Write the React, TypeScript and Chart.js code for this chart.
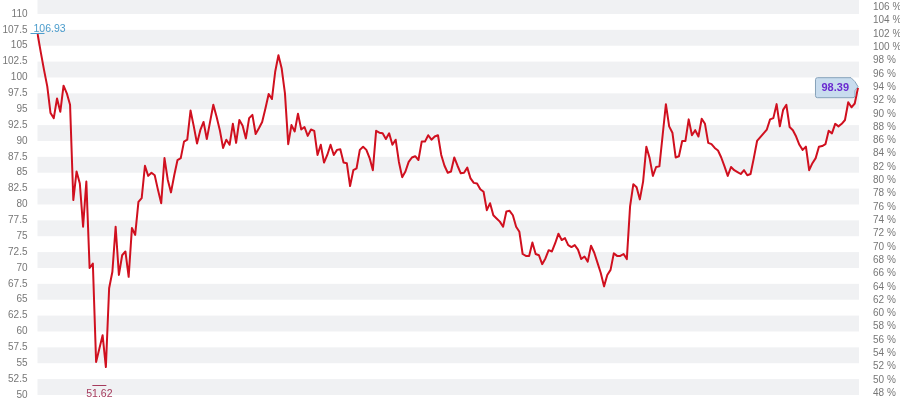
import { useEffect, useRef } from 'react';
import { Chart, registerables } from 'chart.js';

Chart.register(...registerables);
Chart.defaults.font.family = '"Liberation Sans", Arial, sans-serif';

// closing prices in four stretches
const closesA = [
  106.93, 104.0, 101.2, 98.6, 94.4, 93.6, 96.7, 94.6, 98.7, 97.5, 95.7, 80.7, 85.2, 83.3, 76.5, 83.6,
  70.0, 70.7, 55.2, 57.3, 59.4, 54.4, 66.8, 69.4, 76.5, 68.9, 72.0, 72.6, 68.6, 76.3, 75.2, 80.4,
  81.0, 86.1, 84.5, 85.0, 84.6, 82.3, 80.2, 87.3, 83.9, 81.9, 84.6, 87.0, 87.3, 89.9, 90.2, 94.8,
  92.3, 89.6, 91.7, 93.0, 90.3, 93.0, 95.7, 93.8, 91.7, 88.9, 90.2, 89.4, 92.7, 89.7, 93.3,
];
const closesB = [
  92.4, 90.4, 93.6, 94.1, 91.1, 92.0, 93.0, 95.1, 97.4, 96.6, 100.9, 103.5, 101.4, 97.5, 89.5, 92.5,
  91.5, 94.3, 91.8, 92.2, 90.8, 91.8, 91.6, 87.8, 89.4, 86.6, 87.8, 89.4, 87.8, 88.6, 88.7, 86.6,
  86.5, 82.9, 85.4, 85.7, 88.6, 89.1, 88.6, 87.3, 85.4, 91.6, 91.3, 91.2, 90.3, 91.2, 89.4, 90.2,
  86.7, 84.3, 85.2, 86.7, 87.4, 87.6, 87.0, 89.9, 89.9, 90.9, 90.2, 90.7, 90.9, 87.8, 86.1,
];
const closesC = [
  85.0, 85.2, 87.4, 86.1, 84.9, 85.0, 85.8, 84.1, 83.4, 83.3, 82.4, 82.0, 79.1, 80.2, 78.3, 77.8,
  77.3, 76.5, 78.9, 79.0, 78.3, 76.5, 75.7, 72.2, 71.9, 71.9, 74.0, 72.2, 72.0, 70.6, 71.5, 72.8,
  72.6, 73.9, 75.4, 74.4, 74.7, 73.6, 73.3, 73.6, 72.9, 71.4, 71.8, 71.0, 73.5, 72.4, 70.8, 69.2,
  67.1, 68.9, 69.7, 72.3, 71.9, 71.9, 72.2, 71.4, 79.7, 83.2, 82.7, 80.8, 83.6, 89.1, 87.3,
];
const closesD = [
  84.5, 85.9, 86.0, 90.9, 95.8, 92.3, 91.3, 87.4, 87.6, 90.0, 90.0, 93.4, 90.9, 91.7, 90.7, 93.5,
  92.7, 89.7, 89.5, 88.9, 88.5, 87.4, 86.0, 84.5, 85.9, 85.4, 85.1, 84.8, 85.4, 84.6, 84.8, 87.3,
  90.0, 90.6, 91.2, 91.8, 93.4, 93.6, 95.8, 92.3, 94.9, 95.7, 92.2, 91.7, 90.7, 89.4, 88.6, 89.1,
  85.4, 86.5, 87.3, 89.1, 89.2, 89.5, 91.6, 91.2, 92.7, 92.3, 92.7, 93.3, 96.1, 95.3, 95.9, 98.39,
];

const closes = [...closesA, ...closesB, ...closesC, ...closesD];
const days = closes.map((_, i) => String(i));

// high / low markers (index into closes, value shown)
const highMark = { index: 0, value: 106.93 };
const lowMark = { index: 19, value: 51.62 };

// axis ranges: price on the left, percent on the right
const priceAxis = { min: 49.05, max: 112.2, step: 2.5 };
const percentAxis = { min: 46.84, max: 107.1, step: 2 };

const bandsPlugin = {
  id: 'bands',
  beforeDatasetsDraw(chart: any) {
    const { ctx, chartArea: a, scales } = chart;
    const y = scales.y;
    ctx.save();
    ctx.fillStyle = '#f0f1f3';
    for (let v = Math.floor(y.min / 5) * 5; v < y.max; v += 5) {
      const top = Math.max(y.getPixelForValue(v + 2.5), a.top);
      const bottom = Math.min(y.getPixelForValue(v), a.bottom);
      if (bottom > top) ctx.fillRect(a.left, top, a.right - a.left + 1, bottom - top);
    }
    ctx.restore();
  },
};

const markersPlugin = {
  id: 'markers',
  afterDatasetsDraw(chart: any) {
    const { ctx, chartArea: a, scales } = chart;
    const x = scales.x;
    const y = scales.y;
    ctx.save();
    ctx.lineWidth = 1;
    ctx.font = '10.5px "Liberation Sans", Arial, sans-serif';

    // highest
    const hx = x.getPixelForValue(highMark.index);
    const hy = Math.round(y.getPixelForValue(highMark.value)) + 0.5;
    ctx.strokeStyle = '#4b9ccc';
    ctx.fillStyle = '#4b9ccc';
    ctx.beginPath();
    ctx.moveTo(hx - 7, hy);
    ctx.lineTo(hx + 7, hy);
    ctx.stroke();
    const hText = highMark.value.toFixed(2);
    const hw = ctx.measureText(hText).width;
    ctx.textAlign = 'left';
    ctx.textBaseline = 'bottom';
    ctx.fillText(hText, Math.max(hx - hw / 2, a.left - 4), hy + 1);

    // lowest
    const lx = x.getPixelForValue(lowMark.index);
    const ly = Math.round(y.getPixelForValue(lowMark.value)) + 0.5;
    ctx.strokeStyle = '#a53a5c';
    ctx.fillStyle = '#a53a5c';
    ctx.beginPath();
    ctx.moveTo(lx - 7, ly);
    ctx.lineTo(lx + 7, ly);
    ctx.stroke();
    ctx.textAlign = 'center';
    ctx.textBaseline = 'top';
    ctx.fillText(lowMark.value.toFixed(2), lx, ly + 3);

    // last value callout
    const last = closes.length - 1;
    const px = x.getPixelForValue(last);
    const py = y.getPixelForValue(closes[last]);
    const text = closes[last].toFixed(2);
    ctx.font = 'bold 11px "Liberation Sans", Arial, sans-serif';
    const tw = ctx.measureText(text).width;
    const right = px - 3;
    const left = right - tw - 12;
    const top = py - 10;
    const bottom = py + 10;
    const r = 2;
    ctx.beginPath();
    ctx.moveTo(left + r, top);
    ctx.lineTo(right - 4, top);
    ctx.lineTo(right, top + 4);
    ctx.lineTo(px, py - 1);
    ctx.lineTo(right, py + 3);
    ctx.lineTo(right, bottom - r);
    ctx.quadraticCurveTo(right, bottom, right - r, bottom);
    ctx.lineTo(left + r, bottom);
    ctx.quadraticCurveTo(left, bottom, left, bottom - r);
    ctx.lineTo(left, top + r);
    ctx.quadraticCurveTo(left, top, left + r, top);
    ctx.closePath();
    ctx.fillStyle = '#c8dcee';
    ctx.fill();
    ctx.strokeStyle = '#86a2ba';
    ctx.stroke();
    ctx.fillStyle = '#6a2ad0';
    ctx.textAlign = 'center';
    ctx.textBaseline = 'middle';
    ctx.fillText(text, (left + right) / 2, py + 0.5);

    ctx.restore();
  },
};

export default function App() {
  const canvasRef = useRef<HTMLCanvasElement>(null);
  const chartRef = useRef<Chart | null>(null);

  useEffect(() => {
    if (!canvasRef.current) return;
    if (chartRef.current) {
      chartRef.current.destroy();
      chartRef.current = null;
    }

    chartRef.current = new Chart(canvasRef.current, {
      type: 'line',
      data: {
        labels: days,
        datasets: [
          {
            data: closes,
            borderColor: '#d0101f',
            borderWidth: 2,
            pointRadius: 0,
            tension: 0,
            borderJoinStyle: 'round',
            yAxisID: 'y',
          },
        ],
      },
      options: {
        responsive: true,
        maintainAspectRatio: false,
        animation: false,
        events: [],
        layout: { padding: 0 },
        plugins: {
          legend: { display: false },
          tooltip: { enabled: false },
        },
        scales: {
          x: { type: 'category', display: false },
          y: {
            position: 'left',
            min: priceAxis.min,
            max: priceAxis.max,
            grid: { display: false, drawTicks: false },
            border: { display: false },
            ticks: {
              stepSize: priceAxis.step,
              includeBounds: false,
              autoSkip: false,
              padding: 10,
              color: '#777777',
              font: { size: 10 },
            },
            afterFit: (scale: any) => {
              scale.width = 37.5;
              scale.paddingTop = 0;
              scale.paddingBottom = 0;
            },
          },
          y2: {
            position: 'right',
            min: percentAxis.min,
            max: percentAxis.max,
            grid: { display: false, drawTicks: false },
            border: { display: false },
            ticks: {
              stepSize: percentAxis.step,
              includeBounds: false,
              autoSkip: false,
              padding: 15,
              color: '#777777',
              font: { size: 10 },
              callback: (value) => `${value} %`,
            },
            afterFit: (scale: any) => {
              scale.width = 42;
              scale.paddingTop = 0;
              scale.paddingBottom = 0;
            },
          },
        },
      },
      plugins: [bandsPlugin, markersPlugin],
    });

    return () => {
      if (chartRef.current) {
        chartRef.current.destroy();
        chartRef.current = null;
      }
    };
  }, []);

  return (
    <div style={{ position: 'fixed', left: 0, top: 0, width: '900px', height: '401px', background: '#fff' }}>
      <canvas ref={canvasRef} />
    </div>
  );
}
